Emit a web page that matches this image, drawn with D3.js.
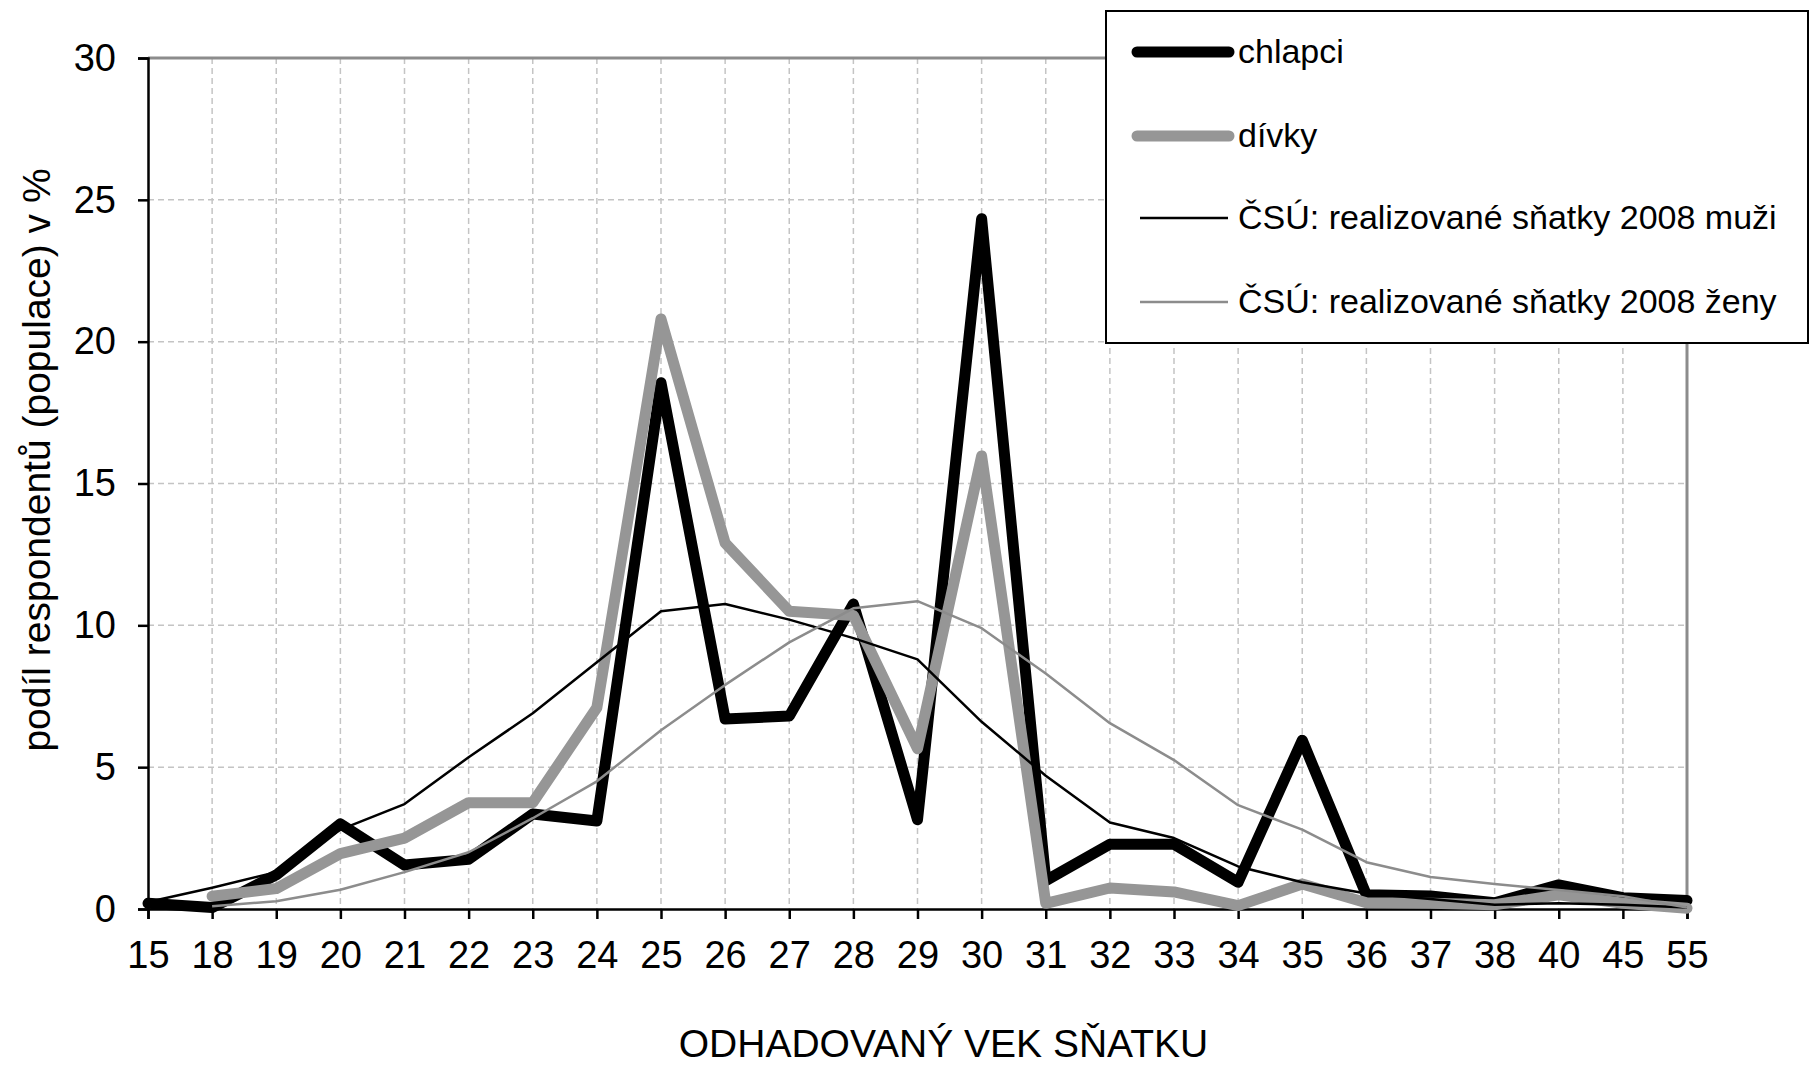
<!DOCTYPE html>
<html>
<head>
<meta charset="utf-8">
<script src="https://cdn.jsdelivr.net/npm/d3@7"></script>
<style>
  html, body { margin: 0; padding: 0; background: #fff; }
  svg { display: block; font-family: "Liberation Sans", Arial, sans-serif; }
</style>
</head>
<body>
<svg id="chart" width="1810" height="1067"></svg>
<script>
// ---- data ----
const categories = ["15","18","19","20","21","22","23","24","25","26","27","28","29","30","31","32","33","34","35","36","37","38","40","45","55"];
const chlapci = [0.2, 0.05, 1.2, 3.0, 1.55, 1.75, 3.35, 3.1, 18.55, 6.7, 6.8, 10.75, 3.15, 24.33, 1.0, 2.28, 2.28, 0.94, 5.95, 0.5, 0.46, 0.22, 0.85, 0.4, 0.3];
const divky = [null, 0.45, 0.72, 1.95, 2.5, 3.75, 3.75, 7.1, 20.8, 12.9, 10.5, 10.35, 5.65, 15.97, 0.2, 0.74, 0.6, 0.12, 0.88, 0.22, 0.2, 0.15, 0.5, 0.2, 0.03];
const csuMuzi = [0.25, 0.75, 1.3, 2.8, 3.7, 5.35, 6.9, 8.7, 10.5, 10.75, 10.2, 9.55, 8.8, 6.6, 4.7, 3.05, 2.5, 1.5, 0.94, 0.55, 0.35, 0.15, 0.2, 0.15, 0.05];
const csuZeny = [null, 0.1, 0.27, 0.68, 1.3, 2.0, 3.2, 4.5, 6.3, 7.9, 9.4, 10.6, 10.85, 9.9, 8.3, 6.55, 5.25, 3.66, 2.8, 1.65, 1.13, 0.88, 0.67, 0.45, 0.05];
const yTicks = [0, 5, 10, 15, 20, 25, 30];
const seriesNames = ["chlapci", "dívky", "ČSÚ: realizované sňatky 2008 muži", "ČSÚ: realizované sňatky 2008 ženy"];
const xTitle = "ODHADOVANÝ VEK SŇATKU";
const yTitle = "podíl respondentů (populace) v %";

// ---- layout ----
const L = 148, R = 1687, T = 58, B = 909;
const svg = d3.select("#chart");

const x = d3.scalePoint().domain(categories).range([L, R]).padding(0);
const y = d3.scaleLinear().domain([0, 30]).range([B, T]);

// gridlines
const grid = svg.append("g");
grid.selectAll("line.v").data(categories.slice(1, -1)).join("line")
  .attr("x1", d => x(d)).attr("x2", d => x(d))
  .attr("y1", T).attr("y2", B)
  .attr("stroke", "#c4c4c4").attr("stroke-width", 1.5).attr("stroke-dasharray", "6,4");
grid.selectAll("line.h").data(yTicks.filter(v => v > 0 && v < 30)).join("line")
  .attr("x1", L).attr("x2", R)
  .attr("y1", d => y(d)).attr("y2", d => y(d))
  .attr("stroke", "#c4c4c4").attr("stroke-width", 1.5).attr("stroke-dasharray", "6,4");

// top & right border (gray)
svg.append("line").attr("x1", L).attr("x2", R).attr("y1", T).attr("y2", T)
  .attr("stroke", "#8c8c8c").attr("stroke-width", 3);
svg.append("line").attr("x1", R).attr("x2", R).attr("y1", T).attr("y2", B)
  .attr("stroke", "#8c8c8c").attr("stroke-width", 3);

// axes
const yAxis = d3.axisLeft(y).tickValues(yTicks).tickSize(10).tickPadding(22).tickFormat(d3.format("d"));
const gy = svg.append("g").attr("transform", `translate(${L},0)`).call(yAxis);
gy.select(".domain").attr("stroke", "#000").attr("stroke-width", 2.5);
gy.selectAll(".tick line").attr("stroke", "#000").attr("stroke-width", 2.5);
gy.selectAll(".tick text").attr("font-size", 38).attr("fill", "#000")
  .attr("font-family", "'Liberation Sans', Arial, sans-serif");

const xAxis = d3.axisBottom(x).tickSize(10).tickPadding(22);
const gx = svg.append("g").attr("transform", `translate(0,${B})`).call(xAxis);
gx.select(".domain").attr("stroke", "#000").attr("stroke-width", 2.5);
gx.selectAll(".tick line").attr("stroke", "#000").attr("stroke-width", 2.5);
gx.selectAll(".tick text").attr("font-size", 38).attr("fill", "#000")
  .attr("font-family", "'Liberation Sans', Arial, sans-serif");

// series
const styles = [
  { data: chlapci, color: "#000000", width: 11 },
  { data: divky, color: "#969696", width: 11 },
  { data: csuMuzi, color: "#000000", width: 2.5 },
  { data: csuZeny, color: "#8c8c8c", width: 2.5 }
];
const line = d3.line()
  .defined(d => d.v !== null)
  .x(d => x(d.c)).y(d => y(d.v));
const plot = svg.append("g");
styles.forEach(s => {
  const pts = categories.map((c, i) => ({ c, v: s.data[i] }));
  plot.append("path").datum(pts)
    .attr("d", line)
    .attr("fill", "none")
    .attr("stroke", s.color)
    .attr("stroke-width", s.width)
    .attr("stroke-linejoin", "round")
    .attr("stroke-linecap", s.width > 5 ? "round" : "butt");
});

// axis titles
svg.append("text").attr("x", (L + R) / 2 + 26).attr("y", 1057)
  .attr("text-anchor", "middle").attr("font-size", 39).attr("fill", "#000")
  .text(xTitle);
svg.append("text").attr("transform", "translate(50,460) rotate(-90)")
  .attr("text-anchor", "middle").attr("font-size", 39).attr("fill", "#000")
  .text(yTitle);

// legend
const lg = svg.append("g");
lg.append("rect").attr("x", 1106).attr("y", 11).attr("width", 702).attr("height", 332)
  .attr("fill", "#fff").attr("stroke", "#000").attr("stroke-width", 2);
const rowY = [52, 136, 218, 302];
styles.forEach((s, i) => {
  const thick = s.width > 5;
  lg.append("line")
    .attr("x1", thick ? 1137 : 1140).attr("x2", thick ? 1229 : 1228)
    .attr("y1", rowY[i]).attr("y2", rowY[i])
    .attr("stroke", s.color).attr("stroke-width", s.width)
    .attr("stroke-linecap", thick ? "round" : "butt");
  lg.append("text").attr("x", 1238).attr("y", rowY[i] + 11)
    .attr("font-size", 34).attr("fill", "#000")
    .text(seriesNames[i]);
});
</script>
</body>
</html>
